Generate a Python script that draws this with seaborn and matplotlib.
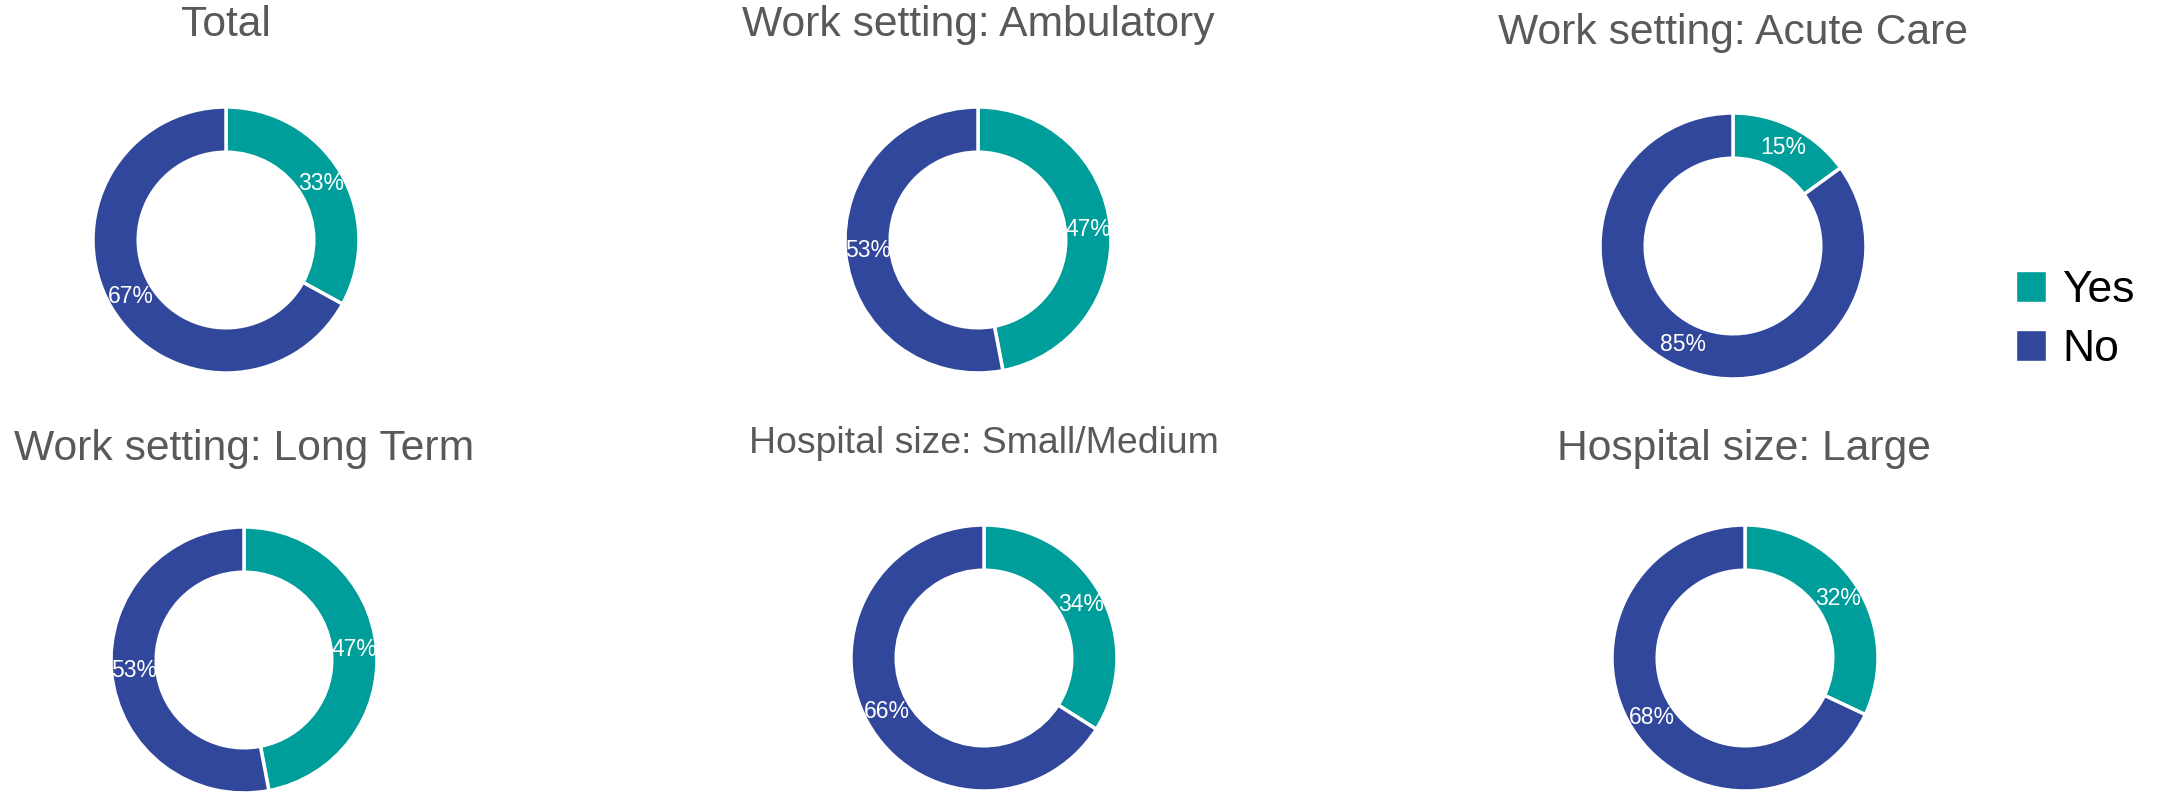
import matplotlib
matplotlib.use("Agg")
import matplotlib.pyplot as plt
from matplotlib.patches import Patch
import seaborn as sns

# chart data
titles = ["Total", "Work setting: Ambulatory", "Work setting: Acute Care",
          "Work setting: Long Term", "Hospital size: Small/Medium", "Hospital size: Large"]
categories = ["Yes", "No"]
yes_pct = [33, 47, 15, 47, 34, 32]
no_pct = [67, 53, 85, 53, 66, 68]

colors = ["#009E9A", "#31479B"]

sns.set_theme(style="white")
plt.rcParams["font.family"] = ["Liberation Sans", "DejaVu Sans"]

W, H = 2164, 792
fig = plt.figure(figsize=(W / 100, H / 100), dpi=100)

# pixel layout: donut centres, title centres, title sizes
centres = [(226, 240), (978, 240), (1733, 246), (244, 660), (984, 658), (1745, 658)]
title_pos = [(226, 25), (978, 25), (1733, 33), (244, 449), (984, 444), (1744, 449)]
title_size = [30.7, 30.7, 30.7, 30.7, 26.9, 30.7]
R = 133

for i, title in enumerate(titles):
    cx, cy = centres[i]
    ax = fig.add_axes([(cx - R) / W, 1 - (cy + R) / H, 2 * R / W, 2 * R / H])
    ax.pie([yes_pct[i], no_pct[i]], colors=colors, startangle=90, counterclock=False,
           radius=1, autopct=lambda p: f"{round(p)}%", pctdistance=0.83,
           wedgeprops=dict(width=0.34, edgecolor="white", linewidth=2.5),
           textprops=dict(color="white", fontsize=16.5))
    ax.set_xlim(-1, 1)
    ax.set_ylim(-1, 1)
    ax.set_aspect("equal")
    ax.axis("off")
    tx, ty = title_pos[i]
    fig.text(tx / W, 1 - ty / H, title, ha="center", va="center",
             fontsize=title_size[i], color="#595959")

handles = [Patch(facecolor=c, label=l) for c, l in zip(colors, categories)]
fig.legend(handles=handles, loc="center left", bbox_to_anchor=(1994 / W, 1 - 320 / H),
           frameon=False, fontsize=32, handlelength=0.68, handleheight=0.68,
           handletextpad=0.35, labelspacing=0.4, borderpad=0, labelcolor="black")

fig.savefig("out.png", dpi=100)
